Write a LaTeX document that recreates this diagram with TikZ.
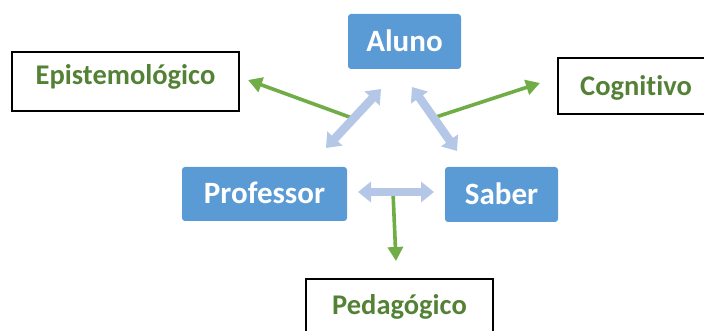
\documentclass[tikz,border=0pt]{standalone}
\usepackage{fontspec}
\setmainfont{Carlito}[Ligatures=NoCommon]
\usetikzlibrary{arrows.meta,calc}
\definecolor{boxblue}{HTML}{5B9BD5}
\definecolor{arrblue}{HTML}{B4C7E7}
\definecolor{arrgreen}{HTML}{70AD47}
\definecolor{txtgreen}{HTML}{538135}
\begin{document}
\begin{tikzpicture}[x=1pt,y=-1pt,
 bluebox/.style={fill=boxblue, rounded corners=3pt, text=white, font=\fontsize{31}{36}\selectfont\bfseries, inner sep=0pt, text height=20pt, text depth=0pt},
 labelbox/.style={draw=black, line width=1.5pt, text=txtgreen, font=\fontsize{28.5}{34}\selectfont\bfseries, inner sep=0pt, text height=18.5pt, text depth=0pt},
 dblarrow/.style={draw=arrblue, line width=8.5pt, {Triangle[width=20pt,length=13pt]}-{Triangle[width=20pt,length=13pt]}},
 grnarrow/.style={draw=arrgreen, line width=3.6pt, -{Triangle[width=15pt,length=14pt]}}]
\useasboundingbox (0,0) rectangle (704,331);
% blue nodes
\node[bluebox, minimum width=113pt, minimum height=55pt] (aluno) at (404.5,41.5) {Aluno};
\node[bluebox, minimum width=165pt, minimum height=54pt] (prof) at (264.5,194) {Professor};
\node[bluebox, minimum width=113pt, minimum height=55pt] (saber) at (501.5,194.5) {Saber};
% label boxes
\node[labelbox, minimum width=227pt, minimum height=59pt, text depth=13pt] (epi) at (125.5,81.5) {Epistemológico};
\node[labelbox, minimum width=156pt, minimum height=56pt] (cog) at (636,86) {Cognitivo};
\node[labelbox, minimum width=187pt, minimum height=56pt, text depth=4pt] (ped) at (399.5,307) {Pedagógico};
% arrow end coordinates
\coordinate (ap1) at (381,89);
\coordinate (ap2) at (326,148);
\coordinate (as1) at (412,87);
\coordinate (as2) at (457,151);
\coordinate (ps1) at (358,192);
\coordinate (ps2) at (434,192);
\coordinate (epitip) at (248,80);
\coordinate (cogtip) at (540,83);
\coordinate (pedtip) at (396,261);
\coordinate (apm) at ($(ap1)!0.5!(ap2)$);
\coordinate (asm) at (436,117);
\coordinate (psm) at (393,192);
% green arrows (behind)
\draw[grnarrow] (apm) -- (epitip);
\draw[grnarrow] (asm) -- (cogtip);
\draw[grnarrow] (psm) -- (pedtip);
% light double arrows
\draw[dblarrow] (ap1) -- (ap2);
\draw[dblarrow] (as1) -- (as2);
\draw[dblarrow] (ps1) -- (ps2);
\end{tikzpicture}
\end{document}
